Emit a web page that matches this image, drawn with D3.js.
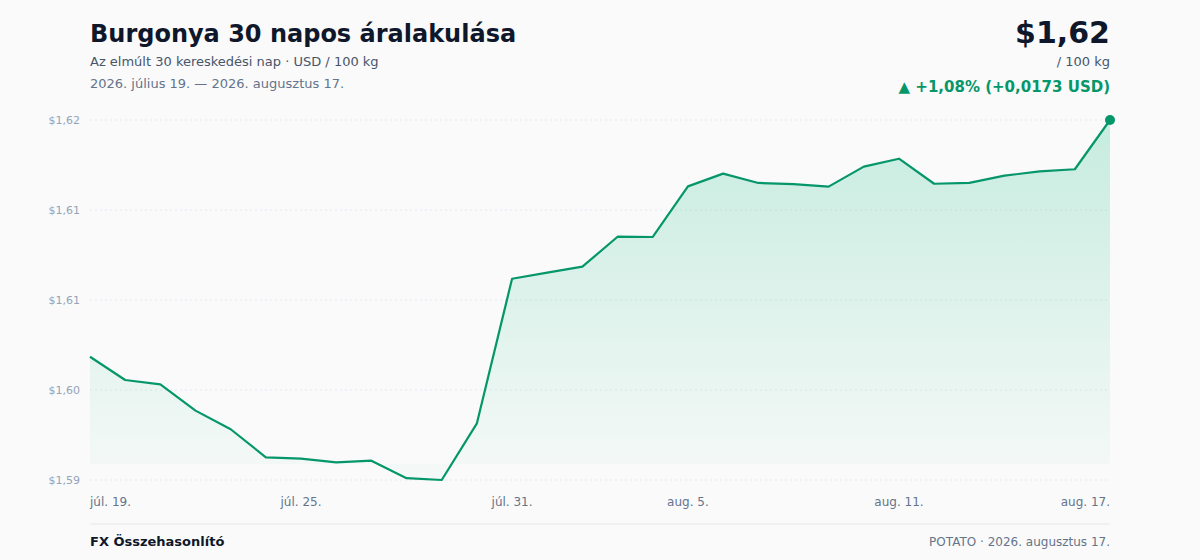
<!DOCTYPE html>
<html lang="hu">
<head>
<meta charset="utf-8">
<script src="https://cdn.jsdelivr.net/npm/d3@7/dist/d3.min.js"></script>
<style>
  html, body { margin: 0; padding: 0; background: #fafafa; }
  svg { display: block; font-family: "DejaVu Sans", sans-serif; }
</style>
</head>
<body>
<svg id="chart" width="1200" height="560"></svg>
<script>
// ---- data ----
const dates = d3.range(30).map(i => new Date(2026, 6, 19 + i));
const prices = [
  1.60270, 1.60100, 1.60068, 1.59876, 1.59740, 1.59535, 1.59525, 1.59498, 1.59510, 1.59382,
  1.59369, 1.59783, 1.60840, 1.60884, 1.60928, 1.61147, 1.61145, 1.61515, 1.61608, 1.61540,
  1.61532, 1.61513, 1.61659, 1.61717, 1.61534, 1.61540, 1.61593, 1.61625, 1.61640, 1.62000
];
const xTickIndex = [0, 6, 12, 17, 23, 29];
const monthAbbr = ["jan.", "febr.", "márc.", "ápr.", "máj.", "jún.", "júl.", "aug.", "szept.", "okt.", "nov.", "dec."];
const monthFull = ["január", "február", "március", "április", "május", "június", "július", "augusztus", "szeptember", "október", "november", "december"];

const title = "Burgonya 30 napos áralakulása";
const subtitle = "Az elmúlt 30 kereskedési nap · USD / 100 kg";
const unitLabel = "/ 100 kg";
const footerLeft = "FX Összehasonlító";
const symbol = "POTATO";

// ---- layout ----
const W = 1200, H = 560;
const m = { left: 90, right: 90, top: 120, bottom: 80 };
const svg = d3.select("#chart");

const fmtNum = (v, d) => v.toFixed(d).replace(".", ",");
const fullDate = d => `${d.getFullYear()}. ${monthFull[d.getMonth()]} ${d.getDate()}.`;

const x = d3.scaleLinear().domain([0, prices.length - 1]).range([m.left, W - m.right]);
const y = d3.scaleLinear().domain(d3.extent(prices)).range([H - m.bottom, m.top]);

// header
svg.append("text").attr("x", m.left).attr("y", 42)
  .attr("font-size", 24).attr("font-weight", "bold").attr("fill", "#0f172a").text(title);
svg.append("text").attr("x", m.left).attr("y", 66)
  .attr("font-size", 13).attr("fill", "#475569").text(subtitle);
svg.append("text").attr("x", m.left).attr("y", 88)
  .attr("font-size", 13).attr("fill", "#64748b")
  .text(`${fullDate(dates[0])} — ${fullDate(dates[dates.length - 1])}`);

const last = prices[prices.length - 1], first = prices[0];
const diff = last - first, pct = diff / first * 100;
svg.append("text").attr("x", W - m.right).attr("y", 43).attr("text-anchor", "end")
  .attr("font-size", 30).attr("font-weight", "bold").attr("fill", "#0f172a")
  .text("$" + fmtNum(last, 2));
svg.append("text").attr("x", W - m.right).attr("y", 66).attr("text-anchor", "end")
  .attr("font-size", 13).attr("fill", "#475569").text(unitLabel);
svg.append("text").attr("x", W - m.right).attr("y", 92).attr("text-anchor", "end")
  .attr("font-size", 15).attr("font-weight", "bold").attr("fill", "#059669")
  .text(`▲ +${fmtNum(pct, 2)}% (+${fmtNum(diff, 4)} USD)`);

// gridlines + y labels
const yTicks = d3.range(5).map(i => y.domain()[0] + i * (y.domain()[1] - y.domain()[0]) / 4);
const grid = svg.append("g");
grid.selectAll("line").data(yTicks).join("line")
  .attr("x1", m.left).attr("x2", W - m.right)
  .attr("y1", d => y(d)).attr("y2", d => y(d))
  .attr("stroke", "#e2e8f0").attr("stroke-dasharray", "2,3").attr("stroke-width", 1);
grid.selectAll("text").data(yTicks).join("text")
  .attr("x", m.left - 10).attr("y", d => y(d) + 4).attr("text-anchor", "end")
  .attr("font-size", 11).attr("fill", "#94a3b8")
  .text(d => "$" + fmtNum(d, 2));

// gradient
const defs = svg.append("defs");
const grad = defs.append("linearGradient").attr("id", "fillGrad")
  .attr("x1", 0).attr("x2", 0).attr("y1", 0).attr("y2", 1);
grad.append("stop").attr("offset", "0%").attr("stop-color", "#10b981").attr("stop-opacity", 0.22);
grad.append("stop").attr("offset", "100%").attr("stop-color", "#10b981").attr("stop-opacity", 0.02);

const base = y.range()[0] - 16;
const area = d3.area().x((d, i) => x(i)).y0(base).y1(d => y(d));
svg.append("path").datum(prices).attr("d", area).attr("fill", "url(#fillGrad)");

const line = d3.line().x((d, i) => x(i)).y(d => y(d));
svg.append("path").datum(prices).attr("d", line)
  .attr("fill", "none").attr("stroke", "#059669").attr("stroke-width", 2.2)
  .attr("stroke-linejoin", "round");

svg.append("circle").attr("cx", x(prices.length - 1)).attr("cy", y(last)).attr("r", 5)
  .attr("fill", "#059669");

// x labels
svg.append("g").selectAll("text").data(xTickIndex).join("text")
  .attr("x", d => x(d)).attr("y", 506)
  .attr("text-anchor", (d, i) => i === 0 ? "start" : (i === xTickIndex.length - 1 ? "end" : "middle"))
  .attr("font-size", 12).attr("fill", "#64748b")
  .text(d => `${monthAbbr[dates[d].getMonth()]} ${dates[d].getDate()}.`);

// footer
svg.append("line").attr("x1", m.left).attr("x2", W - m.right).attr("y1", 524).attr("y2", 524)
  .attr("stroke", "#e5e7eb").attr("stroke-width", 1);
svg.append("text").attr("x", m.left).attr("y", 546)
  .attr("font-size", 13).attr("font-weight", "bold").attr("fill", "#0f172a").text(footerLeft);
svg.append("text").attr("x", W - m.right).attr("y", 546).attr("text-anchor", "end")
  .attr("font-size", 12).attr("fill", "#64748b")
  .text(`${symbol} · ${fullDate(dates[dates.length - 1])}`);
</script>
</body>
</html>
